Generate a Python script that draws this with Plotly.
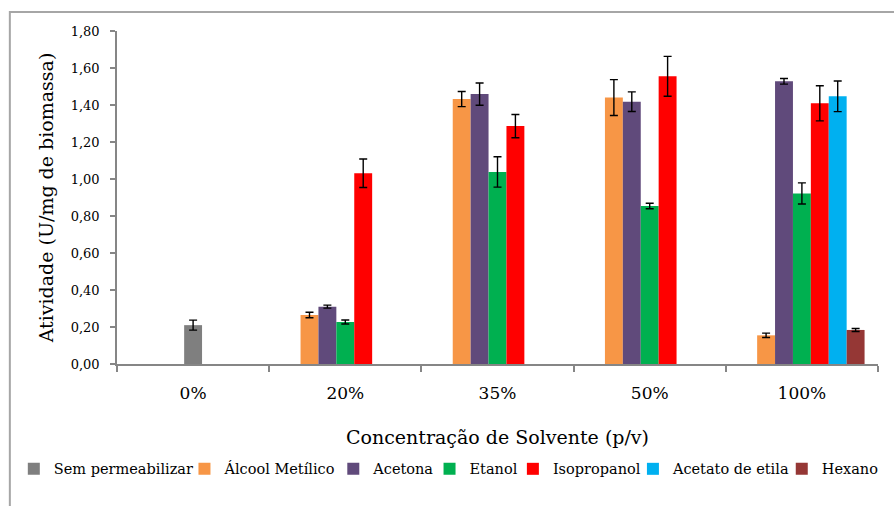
import plotly.graph_objects as go

categories = ["0%", "20%", "35%", "50%", "100%"]

series_names = ["Sem permeabilizar", "Álcool Metílico", "Acetona", "Etanol",
                "Isopropanol", "Acetato de etila", "Hexano"]
series_colors = ["#7F7F7F", "#F79646", "#604A7B", "#00B050", "#FF0000", "#00B0F0", "#953735"]

sem_perm = [0.21, None, None, None, None]
sem_perm_err = [0.027, None, None, None, None]
alcool = [None, 0.265, 1.432, 1.440, 0.155]
alcool_err = [None, 0.015, 0.041, 0.097, 0.012]
acetona = [None, 0.310, 1.459, 1.418, 1.528]
acetona_err = [None, 0.008, 0.060, 0.053, 0.015]
etanol = [None, 0.227, 1.038, 0.854, 0.922]
etanol_err = [None, 0.011, 0.082, 0.015, 0.057]
isopropanol = [None, 1.031, 1.286, 1.555, 1.409]
isopropanol_err = [None, 0.077, 0.063, 0.108, 0.095]
acetato = [None, None, None, None, 1.447]
acetato_err = [None, None, None, None, 0.083]
hexano = [None, None, None, None, 0.184]
hexano_err = [None, None, None, None, 0.008]

y_ticks = [0, 0.2, 0.4, 0.6, 0.8, 1.0, 1.2, 1.4, 1.6, 1.8]
y_tick_labels = ["0,00", "0,20", "0,40", "0,60", "0,80", "1,00", "1,20", "1,40", "1,60", "1,80"]

FONT = "DejaVu Serif"
AXIS_COLOR = "#868686"
BARGAP = 0.1765
SLOT = (1 - BARGAP) / 7

values = [None, alcool, acetona, etanol, isopropanol, acetato, hexano]
errors = [None, alcool_err, acetona_err, etanol_err, isopropanol_err, acetato_err, hexano_err]

fig = go.Figure()

legend_text_px = [53, 225, 375, 472, 556, 677, 827]
legend_keys = ["legend", "legend2", "legend3", "legend4", "legend5", "legend6", "legend7"]

err_style = dict(type="data", visible=True, color="black", thickness=1.4, width=4)

for i, name in enumerate(series_names):
    if i == 0:
        y = [None] * len(categories)
        err = [None] * len(categories)
    else:
        y = values[i]
        err = errors[i]
    fig.add_trace(go.Bar(
        x=categories, y=y, name=name,
        marker=dict(color=series_colors[i], line=dict(width=0)),
        error_y=dict(array=err, **err_style),
        legend=legend_keys[i],
    ))

# Sem permeabilizar at 0% is centered in its category in the reference
fig.add_trace(go.Bar(
    x=categories[:1], y=sem_perm[:1], name=series_names[0],
    marker=dict(color=series_colors[0], line=dict(width=0)),
    error_y=dict(array=sem_perm_err[:1], **err_style),
    offset=-SLOT / 2, width=SLOT, showlegend=False,
))

plot_left, plot_w = 117, 767
layout_legends = {}
for i, key in enumerate(legend_keys):
    layout_legends[key] = dict(
        x=(legend_text_px[i] - 40 - plot_left) / plot_w, xanchor="left",
        y=-0.315, yanchor="middle",
        orientation="h", bgcolor="rgba(0,0,0,0)",
        font=dict(family=FONT, size=14.5, color="black"),
    )

fig.update_layout(
    width=894, height=506,
    margin=dict(l=117, r=10, t=31, b=142),
    paper_bgcolor="white", plot_bgcolor="white",
    barmode="group", bargap=BARGAP, bargroupgap=0,
    font=dict(family=FONT, color="black"),
    showlegend=True,
    **layout_legends,
    xaxis=dict(
        type="category", range=[-0.5, 4.5],
        showline=True, linecolor=AXIS_COLOR, linewidth=1.5,
        ticks="outside", tickson="boundaries", ticklen=6, tickcolor=AXIS_COLOR, tickwidth=1.5,
        tickfont=dict(family=FONT, size=17, color="black"),
        ticklabelstandoff=13,
        showgrid=False, zeroline=False,
        title=dict(text="Concentração de Solvente (p/v)",
                   font=dict(family=FONT, size=19, color="black"), standoff=29),
    ),
    yaxis=dict(
        range=[0, 1.8], tickvals=y_ticks, ticktext=y_tick_labels,
        showline=True, linecolor=AXIS_COLOR, linewidth=1.5,
        ticks="outside", ticklen=5, tickcolor=AXIS_COLOR, tickwidth=1.5,
        tickfont=dict(family=FONT, size=13, color="black"),
        ticklabelstandoff=8,
        showgrid=False, zeroline=False,
        title=dict(text="Atividade (U/mg de biomassa)",
                   font=dict(family=FONT, size=19, color="black"), standoff=12),
    ),
    shapes=[dict(type="rect", xref="paper", yref="paper",
                 x0=(9 - plot_left) / plot_w, x1=(905 - plot_left) / plot_w,
                 y0=1 - (520 - 31) / 333, y1=1 + (31 - 12) / 333,
                 line=dict(color="#A6A6A6", width=2), fillcolor="rgba(0,0,0,0)", layer="below")],
)

fig.write_html("out.html")
